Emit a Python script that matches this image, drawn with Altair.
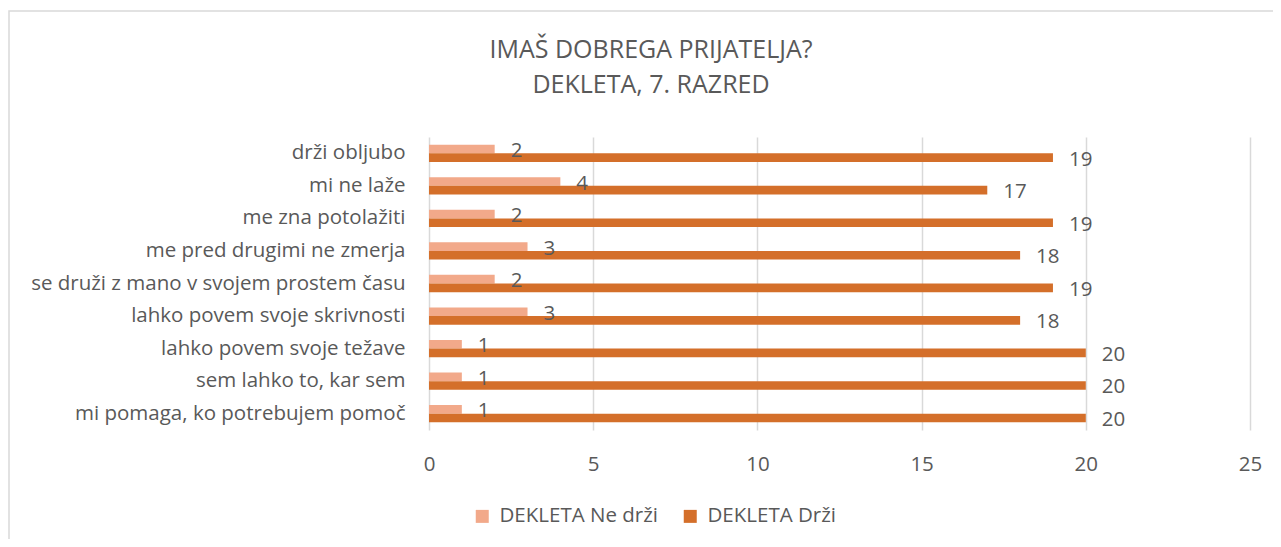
import altair as alt
import pandas as pd

title_lines = ["IMAŠ DOBREGA PRIJATELJA?", "DEKLETA, 7. RAZRED"]
categories = [
    "drži obljubo",
    "mi ne laže",
    "me zna potolažiti",
    "me pred drugimi ne zmerja",
    "se druži z mano v svojem prostem času",
    "lahko povem svoje skrivnosti",
    "lahko povem svoje težave",
    "sem lahko to, kar sem",
    "mi pomaga, ko potrebujem pomoč",
]
ne_drzi = [2, 4, 2, 3, 2, 3, 1, 1, 1]
drzi = [19, 17, 19, 18, 19, 18, 20, 20, 20]
series = ["DEKLETA Ne drži", "DEKLETA Drži"]
colors = ["#F2A98A", "#D46F2A"]
x_ticks = [0, 5, 10, 15, 20, 25]

rows = []
for c, a, b in zip(categories, ne_drzi, drzi):
    rows.append({"cat": c, "series": series[0], "val": a})
    rows.append({"cat": c, "series": series[1], "val": b})
df = pd.DataFrame(rows)

FONT = "Open Sans"
GREY = "#595959"
FS = 20.5

y_enc = alt.Y("cat:N", sort=categories, title=None,
              scale=alt.Scale(paddingInner=0.47, paddingOuter=0.235),
              axis=alt.Axis(labelFontSize=FS, labelColor=GREY, labelFont=FONT,
                            labelPadding=24, ticks=False, domain=False, grid=False,
                            labelLimit=500))
x_enc = alt.X("val:Q", title=None,
              scale=alt.Scale(domain=[0, 25], nice=False),
              axis=alt.Axis(values=x_ticks, labelFontSize=FS, labelColor=GREY,
                            labelFont=FONT, labelPadding=24, ticks=False,
                            labelFlush=False, labelOverlap=False,
                            domain=False, grid=True, gridColor="#D9D9D9",
                            gridWidth=1.5))
yoff = alt.YOffset("series:N", sort=series, scale=alt.Scale(paddingInner=0, paddingOuter=0))

base = alt.Chart(df)

bars = base.mark_bar().encode(
    y=y_enc,
    x=x_enc,
    yOffset=yoff,
    color=alt.Color("series:N", sort=series,
                    scale=alt.Scale(domain=series, range=colors),
                    legend=alt.Legend(title=None, orient="none", direction="horizontal",
                                      legendX=43, legendY=369,
                                      symbolType="square", symbolSize=169,
                                      symbolStrokeWidth=0,
                                      labelFontSize=FS, labelColor=GREY, labelFont=FONT,
                                      labelOffset=7, columnPadding=22)),
)

labels = base.mark_text(align="left", baseline="middle", dx=16, dy=2,
                        fontSize=FS, color=GREY, font=FONT).encode(
    y=alt.Y("cat:N", sort=categories),
    x=alt.X("val:Q"),
    yOffset=yoff,
    text=alt.Text("val:Q"),
)

one = pd.DataFrame({"a": [0]})
border = alt.Chart(one).mark_rect(
    fill=None, stroke="#D9D9D9", strokeWidth=1.5).encode(
    x=alt.value(-420), x2=alt.value(870), y=alt.value(-126), y2=alt.value(430))

title1 = alt.Chart(one).mark_text(
    text=title_lines[0], fontSize=25, font=FONT, color=GREY,
    align="center", baseline="alphabetic").encode(
    x=alt.value(222), y=alt.value(-79))
title2 = alt.Chart(one).mark_text(
    text=title_lines[1], fontSize=25, font=FONT, color=GREY,
    align="center", baseline="alphabetic").encode(
    x=alt.value(222), y=alt.value(-44))

chart = alt.layer(border, bars, labels, title1, title2).properties(
    width=821, height=293,
    autosize=alt.AutoSizeParams(type="none"),
    padding={"left": 421, "top": 129, "right": 23, "bottom": 109},
).configure_view(stroke=None)

chart.save("out.html", embed_options={"renderer": "svg", "actions": False})
